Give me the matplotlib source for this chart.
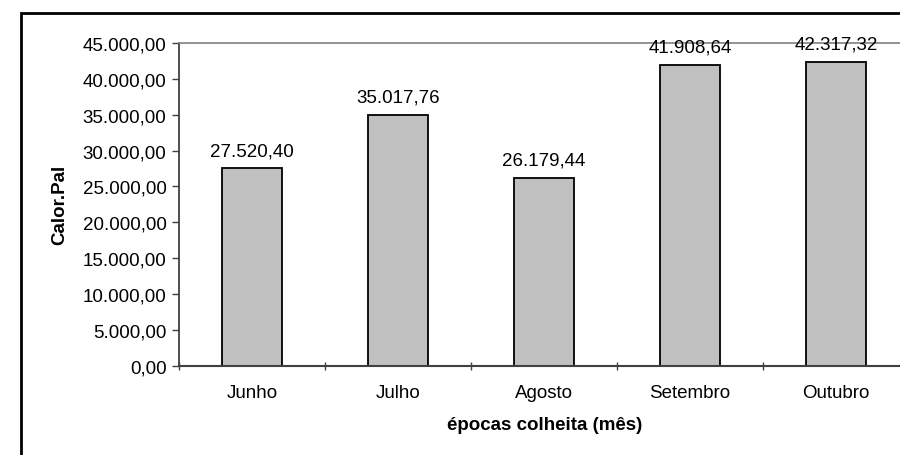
import matplotlib.pyplot as plt
from matplotlib.patches import Rectangle
from matplotlib.ticker import FuncFormatter, FixedLocator

plt.rcParams['font.family'] = ['Liberation Sans', 'DejaVu Sans']

meses = ['Junho', 'Julho', 'Agosto', 'Setembro', 'Outubro']
calor_pal = [27520.40, 35017.76, 26179.44, 41908.64, 42317.32]
y_ticks = [0, 5000, 10000, 15000, 20000, 25000, 30000, 35000, 40000, 45000]


def br_format(v, pos=None):
    # 12345.6 -> 12.345,60
    s = '{:,.2f}'.format(v)
    return s.replace(',', 'X').replace('.', ',').replace('X', '.')


fig = plt.figure(figsize=(9, 4.56), dpi=100)
fig.patch.set_facecolor('white')

# outer chart frame
fig.patches.append(Rectangle((21 / 900, -0.1), 1.2, 0.969 + 0.1,
                             transform=fig.transFigure, fill=False,
                             edgecolor='black', linewidth=2))

ax = fig.add_axes([179 / 900, 89.3 / 456, 730 / 900, 322.7 / 456])
x = list(range(len(meses)))
bars = ax.bar(x, calor_pal, width=0.41, color='#C0C0C0',
              edgecolor='black', linewidth=1.3)

for xi, v in zip(x, calor_pal):
    ax.text(xi, v + 1300, br_format(v), ha='center', va='bottom', fontsize=13.5)

ax.set_xlim(-0.5, 4.5)
ax.set_ylim(0, 45000)
ax.set_yticks(y_ticks)
ax.yaxis.set_major_formatter(FuncFormatter(br_format))

ax.set_xticks(x)
ax.set_xticklabels(meses)
ax.xaxis.set_minor_locator(FixedLocator([i - 0.5 for i in range(len(meses) + 1)]))
ax.tick_params(axis='x', which='major', length=0, pad=13, labelsize=13.5)
ax.tick_params(axis='x', which='minor', length=6, width=1, color='#404040', direction='inout')
ax.tick_params(axis='y', length=5, width=1, color='#404040', labelsize=13.5, pad=4)

ax.spines['right'].set_visible(False)
ax.spines['top'].set_color('#808080')
ax.spines['top'].set_linewidth(1.2)
ax.spines['left'].set_color('#404040')
ax.spines['left'].set_linewidth(1.3)
ax.spines['bottom'].set_color('#404040')
ax.spines['bottom'].set_linewidth(1.5)

ax.set_ylabel('Calor.Pal', fontsize=13.5, fontweight='bold', labelpad=10)
ax.set_xlabel('épocas colheita (mês)', fontsize=13.5, fontweight='bold')
ax.xaxis.set_label_coords((545 - 179) / 730, -0.155)

plt.savefig('out.png', dpi=100, facecolor='white')
